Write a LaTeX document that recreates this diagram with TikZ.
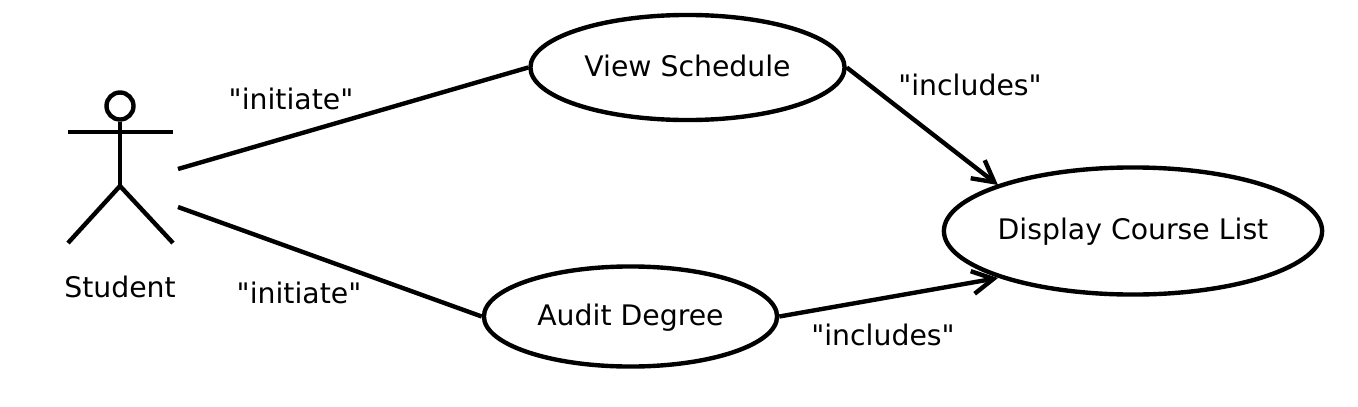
\documentclass[tikz,border=0pt]{standalone}
\usepackage{fontspec}
\setmainfont[Ligatures=TeXOff]{DejaVu Sans}
\usetikzlibrary{arrows.meta,shapes.geometric}
\tikzset{
  lbl/.style={font=\fontsize{8.05}{9}\selectfont,inner sep=0pt},
  usecase/.style={lbl,ellipse,draw,line width=1.25pt,text height=6.5pt,text depth=1.4pt},
  stick/.style={line width=1.25pt},
  link/.style={line width=1.25pt},
  incl/.style={line width=1.25pt,-{Straight Barb[length=6pt,width=6.5pt,line width=1.25pt]}}
}
\begin{document}
\begin{tikzpicture}[x=0.01cm,y=-0.01cm]
  \useasboundingbox (0,0) rectangle (1358,406);

  \node[usecase,minimum width=3.14cm,minimum height=1.05cm] (view) at (687.5,67.5) {View Schedule};
  \node[usecase,minimum width=2.93cm,minimum height=1cm] (audit) at (630.5,316.5) {Audit Degree};
  \node[usecase,minimum width=3.78cm,minimum height=1.27cm] (display) at (1133,231) {\makebox[2.4cm]{Display Course List}};

  % actor
  \node[circle,draw,stick,minimum size=0.27cm,inner sep=0pt] (head) at (120,106) {};
  \coordinate (hip) at (120,186);
  \coordinate (armL) at (68,132);
  \coordinate (armR) at (173,132);
  \coordinate (footL) at (68,243);
  \coordinate (footR) at (173,243);
  \draw[stick] (head) -- (hip);
  \draw[stick] (armL) -- (armR);
  \draw[stick] (footL) -- (hip) -- (footR);
  \node[lbl] (student) at (120,287) {Student};

  \coordinate (actorA) at (178,169);
  \coordinate (actorB) at (178,207);
  \coordinate (inclA) at (998,185);
  \coordinate (inclB) at (998,278);

  \draw[link] (actorA) -- (view.west);
  \draw[link] (actorB) -- (audit.west);
  \draw[incl] (view.east) -- (inclA);
  \draw[incl] (audit.east) -- (inclB);

  \node[lbl] (initA) at (291,99) {"initiate"};
  \node[lbl] (initB) at (299,293) {"initiate"};
  \node[lbl] (inclC) at (970,85) {"includes"};
  \node[lbl] (inclD) at (883,335) {"includes"};
\end{tikzpicture}
\end{document}
